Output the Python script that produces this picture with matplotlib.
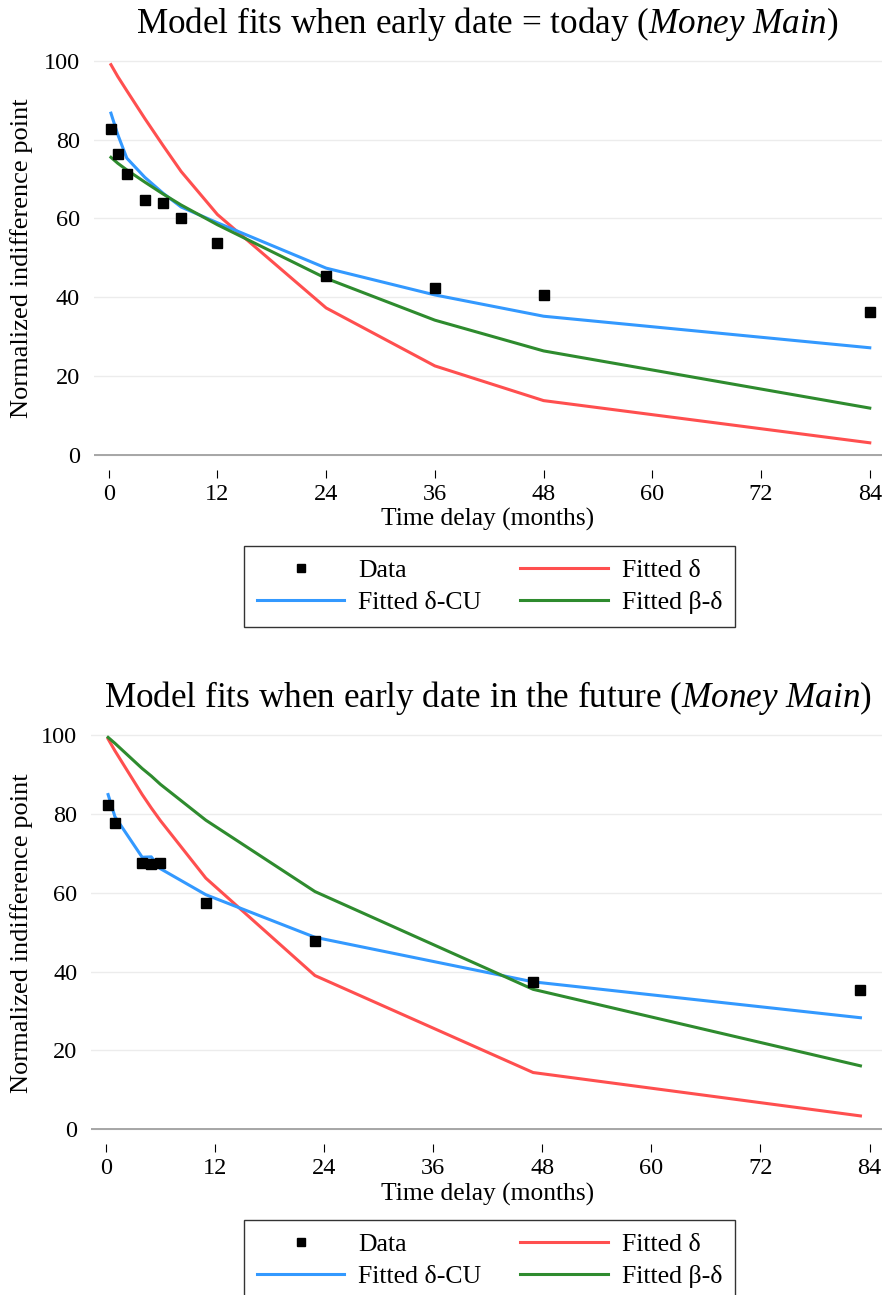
import numpy as np
import matplotlib
matplotlib.use("Agg")
import matplotlib.pyplot as plt
from matplotlib.lines import Line2D

plt.rcParams["font.family"] = ["Liberation Serif", "DejaVu Serif"]
plt.rcParams["mathtext.fontset"] = "custom"
plt.rcParams["mathtext.rm"] = "Liberation Serif"
plt.rcParams["mathtext.it"] = "Liberation Serif:italic"

# --- panel 1: early date = today
months_today = [0.25, 1, 2, 4, 6, 8, 12, 24, 36, 48, 84]
data_today = [82.7, 76.3, 71.3, 64.7, 63.9, 60.2, 53.8, 45.5, 42.3, 40.6, 36.3]
delta_today = [99.0, 96.0, 92.4, 85.3, 78.5, 71.9, 61.0, 37.3, 22.6, 13.8, 3.1]
cu_today = [86.7, 81.3, 75.3, 70.4, 66.4, 62.9, 58.9, 47.4, 40.6, 35.2, 27.2]
bd_today = [75.5, 74.0, 72.3, 69.2, 66.2, 63.4, 58.4, 44.8, 34.2, 26.4, 11.9]

# --- panel 2: early date in the future
months_future = [0.25, 1, 4, 5, 6, 11, 23, 47, 83]
data_future = [82.3, 77.8, 67.5, 67.4, 67.5, 57.5, 47.8, 37.4, 35.3]
delta_future = [99.0, 96.0, 84.9, 81.5, 78.3, 63.7, 39.0, 14.4, 3.4]
cu_future = [84.9, 79.3, 69.0, 69.1, 66.1, 59.5, 48.7, 37.4, 28.3]
bd_future = [99.4, 97.9, 91.5, 89.6, 87.5, 78.4, 60.3, 35.5, 16.1]

xticks = [0, 12, 24, 36, 48, 60, 72, 84]
yticks = [0, 20, 40, 60, 80, 100]

RED = "#ff4f4f"
BLUE = "#3399ff"
GREEN = "#2e8b2e"

W, H = 885, 1295
fig = plt.figure(figsize=(W / 100, H / 100), dpi=100)


def px_axes(left, top, right, bottom):
    return fig.add_axes([left / W, 1 - bottom / H, (right - left) / W, (bottom - top) / H])


def draw_panel(ax, months, data, delta, cu, bd):
    ax.plot(months, delta, color=RED, lw=2.2, zorder=3)
    ax.plot(months, cu, color=BLUE, lw=2.2, zorder=3)
    ax.plot(months, bd, color=GREEN, lw=2.2, zorder=3)
    ax.plot(months, data, ls="none", marker="s", ms=7, color="black", zorder=4)
    ax.set_xlim(-1.62, 85.35)
    ax.set_ylim(-3.8, 101.5)
    ax.set_xticks(xticks)
    ax.set_yticks(yticks)
    for s in ax.spines.values():
        s.set_visible(False)
    ax.yaxis.grid(True, color="#ececec", lw=1)
    ax.set_axisbelow(True)
    ax.axhline(0, color="#a0a0a0", lw=1.3, zorder=2)
    ax.tick_params(axis="y", length=0, pad=10, labelsize=17.5)
    ax.tick_params(axis="x", length=5.8, width=0.8, pad=4, labelsize=17.5)


ax1 = px_axes(94.0, 54.8, 882.0, 470.0)
draw_panel(ax1, months_today, data_today, delta_today, cu_today, bd_today)
ax2 = px_axes(91.1, 729.1, 881.8, 1144.3)
draw_panel(ax2, months_future, data_future, delta_future, cu_future, bd_future)

fig.text(487.5 / W, 1 - 33 / H, r"Model fits when early date = today ($\mathit{Money\ Main}$)",
         ha="center", va="baseline", fontsize=25.3)
fig.text(487.5 / W, 1 - 707 / H, r"Model fits when early date in the future ($\mathit{Money\ Main}$)",
         ha="center", va="baseline", fontsize=25.3)

for yc in (258, 933):
    fig.text(22 / W, 1 - yc / H, "Normalized indifference point", rotation=90,
             ha="center", va="center", fontsize=19)
for yc in (519.5, 1194):
    fig.text(488 / W, 1 - yc / H, "Time delay (months)", ha="center", va="center", fontsize=18.4)

handles = [
    Line2D([], [], ls="none", marker="s", ms=6, color="black"),
    Line2D([], [], color=BLUE, lw=2.2),
    Line2D([], [], color=RED, lw=2.2),
    Line2D([], [], color=GREEN, lw=2.2),
]
labels = ["Data", "Fitted \u03b4-CU", "Fitted \u03b4", "Fitted \u03b2-\u03b4"]
for ytop in (546, 1219.7):
    leg = fig.legend(handles, labels, loc="upper center", bbox_to_anchor=(489.5 / W, 1 - ytop / H),
                     ncol=2, fontsize=18.5, frameon=True, fancybox=False, borderaxespad=0,
                     handlelength=3.4, handletextpad=0.55, columnspacing=1.5, labelspacing=0.36,
                     borderpad=0.5)
    leg.get_frame().set_edgecolor("black")
    leg.get_frame().set_linewidth(1.0)

fig.savefig("out.png", dpi=100)
